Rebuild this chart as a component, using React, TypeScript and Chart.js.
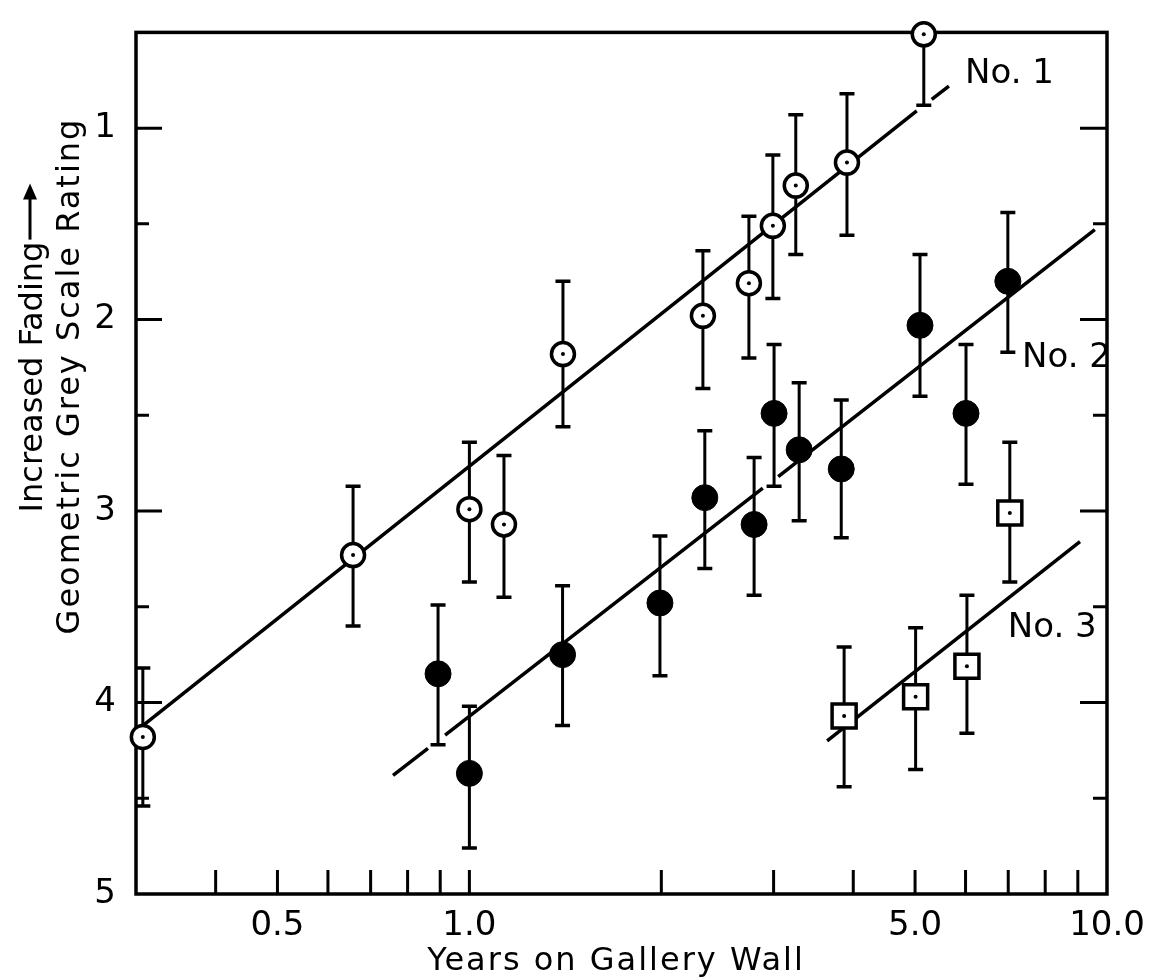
import React, { useEffect, useRef } from 'react';
import { Chart, registerables } from 'chart.js';

Chart.register(...registerables);

// ---- Data (years on wall vs. grey scale rating) ----
// No. 1 : open circles
const no1Years = [0.3075, 0.657, 1.0, 1.133, 1.402, 2.324, 2.744, 2.992, 3.25, 3.91, 5.16];
const no1Rating = [4.18, 3.23, 2.99, 3.07, 2.18, 1.98, 1.81, 1.51, 1.3, 1.18, 0.51];
const no1ErrTop = [3.82, 2.87, 2.64, 2.71, 1.8, 1.64, 1.46, 1.14, 0.93, 0.82, 0.14];
const no1ErrBottom = [4.54, 3.6, 3.37, 3.45, 2.56, 2.36, 2.2, 1.89, 1.66, 1.56, 0.88];

// No. 2 : filled circles
const no2Years = [0.893, 1.0, 1.4, 1.99, 2.34, 2.796, 3.005, 3.29, 3.83, 5.09, 6.01, 6.99];
const no2Rating = [3.85, 4.37, 3.75, 3.48, 2.93, 3.07, 2.49, 2.68, 2.78, 2.03, 2.49, 1.8];
const no2ErrTop = [3.49, 4.02, 3.39, 3.13, 2.58, 2.72, 2.13, 2.33, 2.42, 1.66, 2.13, 1.44];
const no2ErrBottom = [4.22, 4.76, 4.12, 3.86, 3.3, 3.44, 2.87, 3.05, 3.14, 2.4, 2.86, 2.17];

// No. 3 : open squares
const no3Years = [3.87, 5.01, 6.03, 7.04];
const no3Rating = [4.07, 3.97, 3.81, 3.01];
const no3ErrTop = [3.71, 3.61, 3.44, 2.64];
const no3ErrBottom = [4.44, 4.35, 4.16, 3.37];

// Fitted lines (null = break in the drawn line)
const fit1Years = [0.3075, 5.03, 5.03, 5.31, 5.65];
const fit1Rating = [4.12, 0.91, null, 0.85, 0.78];
const fit2Years = [0.759, 0.861, 0.861, 0.916, 2.885, 2.885, 3.05, 9.57];
const fit2Rating = [4.38, 4.24, null, 4.17, 2.88, null, 2.82, 1.53];
const fit3Years = [3.64, 9.07];
const fit3Rating = [4.2, 3.16];

// Series labels and where they sit (data coordinates)
const seriesNames = ['No. 1', 'No. 2', 'No. 3'];
const seriesNameYears = [5.99, 7.36, 6.99];
const seriesNameRating = [0.764, 2.25, 3.66];

// Axes
const xTickValues = [0.5, 1, 5, 10];
const xTickLabels = ['0.5', '1.0', '5.0', '10.0'];
const xMinorTicks = [0.4, 0.5, 0.6, 0.7, 0.8, 0.9, 1, 2, 3, 4, 5, 6, 7, 8, 9];
const yTickValues = [1, 2, 3, 4, 5];
const yTickLabels = ['1', '2', '3', '4', '5'];
const yMajorTicks = [1, 2, 3, 4];
const yMinorTicks = [1.5, 2.5, 3.5, 4.5];

const xTitle = 'Years on Gallery Wall';
const yTitle1 = 'Increased Fading';
const yTitle2 = 'Geometric Grey Scale Rating';

const FONT = '"DejaVu Sans", "Liberation Sans", sans-serif';

const pts = (xs: number[], ys: (number | null)[]) => xs.map((x, i) => ({ x, y: ys[i] }));

export default function App() {
  const ref = useRef<HTMLCanvasElement | null>(null);

  useEffect(() => {
    const canvas = ref.current;
    if (!canvas) return;

    const framePlugin = {
      id: 'frameAndBars',
      beforeDatasetsDraw(chart: any) {
        const { ctx, chartArea: a, scales } = chart;
        const xs = scales.x;
        const ys = scales.y;
        ctx.save();
        ctx.strokeStyle = '#000';
        ctx.lineCap = 'butt';
        // frame
        ctx.lineWidth = 3.5;
        ctx.strokeRect(a.left, a.top, a.right - a.left, a.bottom - a.top);
        // inner ticks
        ctx.lineWidth = 3;
        ctx.beginPath();
        yMajorTicks.forEach((v) => {
          const y = ys.getPixelForValue(v);
          ctx.moveTo(a.left, y); ctx.lineTo(a.left + 26, y);
          ctx.moveTo(a.right, y); ctx.lineTo(a.right - 27, y);
        });
        yMinorTicks.forEach((v) => {
          const y = ys.getPixelForValue(v);
          ctx.moveTo(a.left, y); ctx.lineTo(a.left + 13, y);
          ctx.moveTo(a.right, y); ctx.lineTo(a.right - 14, y);
        });
        xMinorTicks.forEach((v) => {
          const x = xs.getPixelForValue(v);
          ctx.moveTo(x, a.bottom); ctx.lineTo(x, a.bottom - 24);
        });
        ctx.stroke();

        // error bars
        ctx.beginPath();
        ctx.rect(a.left - 20, a.top, a.right - a.left + 40, a.bottom - a.top + 20);
        ctx.clip();
        const groups = [
          [no1Years, no1ErrTop, no1ErrBottom],
          [no2Years, no2ErrTop, no2ErrBottom],
          [no3Years, no3ErrTop, no3ErrBottom],
        ];
        groups.forEach(([X, T, B]) => {
          X.forEach((xv: number, i: number) => {
            const x = xs.getPixelForValue(xv);
            const y1 = ys.getPixelForValue(T[i]);
            const y2 = ys.getPixelForValue(B[i]);
            ctx.lineWidth = 3;
            ctx.beginPath();
            ctx.moveTo(x, y1); ctx.lineTo(x, y2);
            ctx.stroke();
            ctx.lineWidth = 3.5;
            ctx.beginPath();
            ctx.moveTo(x - 7.5, y1); ctx.lineTo(x + 7.5, y1);
            ctx.moveTo(x - 7.5, y2); ctx.lineTo(x + 7.5, y2);
            ctx.stroke();
          });
        });
        ctx.restore();
      },
      afterDraw(chart: any) {
        const { ctx, scales } = chart;
        const xs = scales.x;
        const ys = scales.y;
        ctx.save();
        ctx.fillStyle = '#000';
        ctx.strokeStyle = '#000';
        // series names
        ctx.font = `34px ${FONT}`;
        ctx.textAlign = 'left';
        ctx.textBaseline = 'alphabetic';
        seriesNames.forEach((n, i) => {
          ctx.fillText(n, xs.getPixelForValue(seriesNameYears[i]), ys.getPixelForValue(seriesNameRating[i]));
        });
        // x title
        ctx.font = `32px ${FONT}`;
        (ctx as any).letterSpacing = '2px';
        ctx.textAlign = 'center';
        ctx.fillText(xTitle, 616, 970);
        // y title line 2
        ctx.save();
        ctx.translate(79, 376);
        ctx.rotate(-Math.PI / 2);
        ctx.fillText(yTitle2, 0, 0);
        ctx.restore();
        // y title line 1 with arrow
        (ctx as any).letterSpacing = '0px';
        const w = ctx.measureText(yTitle1).width;
        const arrowLen = 56;
        const total = w + 4 + arrowLen;
        ctx.save();
        ctx.translate(42, 347 + total / 2);
        ctx.rotate(-Math.PI / 2);
        ctx.textAlign = 'left';
        ctx.fillText(yTitle1, 0, 0);
        const ay = -12;
        const ax0 = w + 2;
        const ax1 = ax0 + arrowLen;
        ctx.lineWidth = 3;
        ctx.beginPath();
        ctx.moveTo(ax0, ay); ctx.lineTo(ax1 - 12, ay);
        ctx.stroke();
        ctx.beginPath();
        ctx.moveTo(ax1, ay); ctx.lineTo(ax1 - 16, ay - 7); ctx.lineTo(ax1 - 16, ay + 7);
        ctx.closePath();
        ctx.fill();
        ctx.restore();
        ctx.restore();
      },
    };

    const lineDs = (xs: number[], ys: (number | null)[]) => ({
      type: 'line' as const,
      data: pts(xs, ys),
      borderColor: '#000',
      borderWidth: 3.5,
      pointRadius: 0,
      spanGaps: false,
      fill: false,
      order: 5,
      clip: false as any,
    });

    const chart = new Chart(canvas, {
      type: 'scatter',
      data: {
        datasets: [
          lineDs(fit1Years, fit1Rating),
          lineDs(fit2Years, fit2Rating),
          lineDs(fit3Years, fit3Rating),
          {
            data: pts(no1Years, no1Rating),
            pointStyle: 'circle',
            pointRadius: 11.5,
            pointBorderWidth: 3.5,
            pointBackgroundColor: '#fff',
            pointBorderColor: '#000',
            order: 2,
            clip: false as any,
          },
          {
            data: pts(no2Years, no2Rating),
            pointStyle: 'circle',
            pointRadius: 13,
            pointBorderWidth: 1,
            pointBackgroundColor: '#000',
            pointBorderColor: '#000',
            order: 2,
            clip: false as any,
          },
          {
            data: pts(no3Years, no3Rating),
            pointStyle: 'rect',
            pointRadius: 17,
            pointBorderWidth: 3.5,
            pointBackgroundColor: '#fff',
            pointBorderColor: '#000',
            order: 2,
            clip: false as any,
          },
          {
            data: [...pts(no1Years, no1Rating), ...pts(no3Years, no3Rating)],
            pointStyle: 'circle',
            pointRadius: 2,
            pointBorderWidth: 0,
            pointBackgroundColor: '#000',
            order: 0,
            clip: false as any,
          },
        ] as any,
      },
      options: {
        responsive: false,
        maintainAspectRatio: false,
        devicePixelRatio: 1,
        animation: false,
        events: [],
        layout: { padding: { top: 24, right: 51, left: 0, bottom: 0 } },
        plugins: { legend: { display: false }, tooltip: { enabled: false }, title: { display: false } },
        scales: {
          x: {
            type: 'logarithmic',
            position: 'bottom',
            min: 0.3,
            max: 10,
            grid: { display: false },
            border: { display: false },
            afterBuildTicks: (s: any) => { s.ticks = xTickValues.map((v) => ({ value: v })); },
            afterFit: (s: any) => { s.height = 85; },
            ticks: {
              autoSkip: false,
              maxRotation: 0,
              padding: 4,
              color: '#000',
              font: { family: FONT, size: 34 },
              callback: (_v: any, i: number) => xTickLabels[i],
            },
          },
          y: {
            type: 'linear',
            position: 'left',
            reverse: true,
            min: 0.5,
            max: 5,
            grid: { display: false },
            border: { display: false },
            afterBuildTicks: (s: any) => { s.ticks = yTickValues.map((v) => ({ value: v })); },
            afterFit: (s: any) => { s.width = 136; },
            ticks: {
              autoSkip: false,
              padding: 12,
              color: '#000',
              font: { family: FONT, size: 34 },
              callback: (_v: any, i: number) => yTickLabels[i],
            },
          },
        },
      } as any,
      plugins: [framePlugin],
    });

    return () => chart.destroy();
  }, []);

  return (
    <div style={{ position: 'fixed', left: 0, top: 0, width: 1158, height: 979, background: '#fff' }}>
      <canvas ref={ref} width={1158} height={979} style={{ display: 'block', width: 1158, height: 979 }} />
    </div>
  );
}
